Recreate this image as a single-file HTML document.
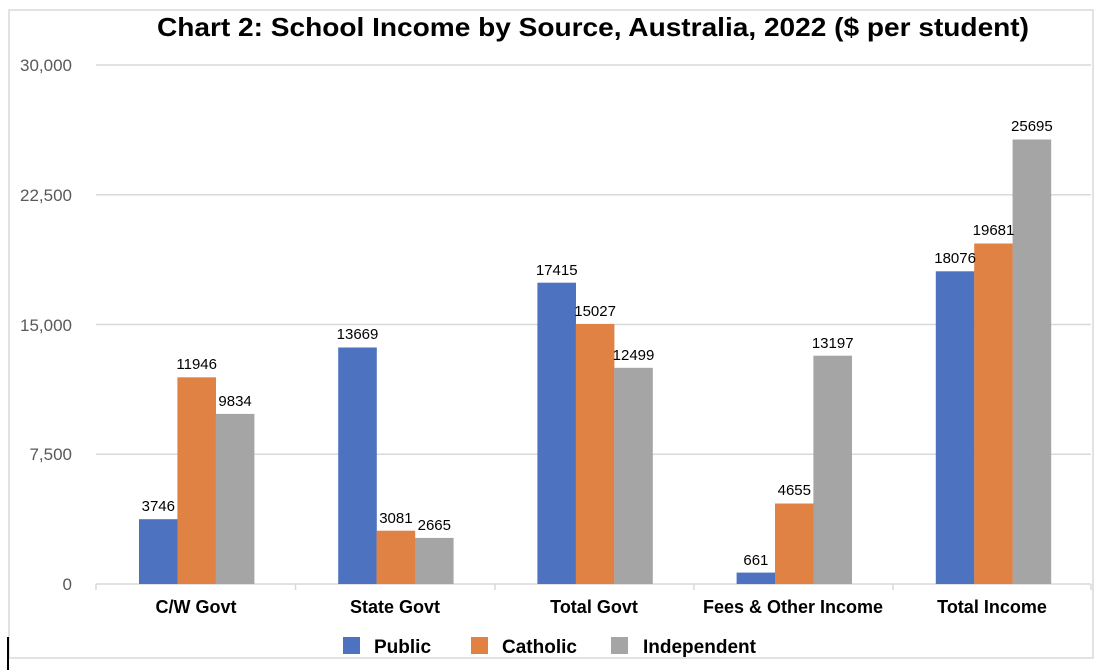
<!DOCTYPE html>
<html><head><style>
body{margin:0;background:#fff;width:1102px;height:670px;overflow:hidden}
svg{display:block}
text{font-family:"Liberation Sans",sans-serif}
</style></head><body>
<svg width="1102" height="670" viewBox="0 0 1102 670">
<rect x="9" y="10" width="1084" height="648" fill="#fff" stroke="#d9d9d9" stroke-width="1.5"/>
<line x1="8" y1="637" x2="8" y2="670" stroke="#000" stroke-width="2"/>
<text x="593" y="36" text-anchor="middle" font-size="26" font-weight="bold" textLength="872" lengthAdjust="spacingAndGlyphs">Chart 2: School Income by Source, Australia, 2022 ($ per student)</text>
<g stroke="#d9d9d9" stroke-width="1.5">
<line x1="96" y1="65" x2="1091" y2="65"/>
<line x1="96" y1="194.75" x2="1091" y2="194.75"/>
<line x1="96" y1="324.5" x2="1091" y2="324.5"/>
<line x1="96" y1="454.25" x2="1091" y2="454.25"/>
<line x1="96" y1="584" x2="1091" y2="584"/>
<line x1="96" y1="584" x2="96" y2="590"/><line x1="295.5" y1="584" x2="295.5" y2="590"/><line x1="495" y1="584" x2="495" y2="590"/><line x1="694" y1="584" x2="694" y2="590"/><line x1="893" y1="584" x2="893" y2="590"/><line x1="1091" y1="584" x2="1091" y2="590"/>
</g>
<g font-size="17" fill="#595959" text-anchor="end">
<text x="72" y="71">30,000</text><text x="72" y="201">22,500</text><text x="72" y="331">15,000</text><text x="72" y="460">7,500</text><text x="72" y="590">0</text>
</g>
<g>
<rect x="139" y="519.2" width="38.6" height="64.8" fill="#4d72c0"/>
<rect x="177.4" y="377.3" width="38.6" height="206.7" fill="#e08244"/>
<rect x="215.8" y="413.9" width="38.6" height="170.1" fill="#a5a5a5"/>
<rect x="338.2" y="347.5" width="38.6" height="236.5" fill="#4d72c0"/>
<rect x="376.6" y="530.7" width="38.6" height="53.3" fill="#e08244"/>
<rect x="415" y="537.9" width="38.6" height="46.1" fill="#a5a5a5"/>
<rect x="537.4" y="282.7" width="38.6" height="301.3" fill="#4d72c0"/>
<rect x="575.8" y="324" width="38.6" height="260" fill="#e08244"/>
<rect x="614.2" y="367.8" width="38.6" height="216.2" fill="#a5a5a5"/>
<rect x="736.6" y="572.6" width="38.6" height="11.4" fill="#4d72c0"/>
<rect x="775" y="503.5" width="38.6" height="80.5" fill="#e08244"/>
<rect x="813.4" y="355.7" width="38.6" height="228.3" fill="#a5a5a5"/>
<rect x="935.8" y="271.3" width="38.6" height="312.7" fill="#4d72c0"/>
<rect x="974.2" y="243.5" width="38.6" height="340.5" fill="#e08244"/>
<rect x="1012.6" y="139.5" width="38.6" height="444.5" fill="#a5a5a5"/>
</g>
<g font-size="15" text-anchor="middle">
<text x="158.3" y="511">3746</text><text x="196.7" y="369">11946</text><text x="235.1" y="406">9834</text>
<text x="357.5" y="339">13669</text><text x="395.9" y="523">3081</text><text x="434.3" y="530">2665</text>
<text x="556.7" y="275">17415</text><text x="595.1" y="316">15027</text><text x="633.5" y="360">12499</text>
<text x="755.9" y="565">661</text><text x="794.3" y="495">4655</text><text x="832.7" y="348">13197</text>
<text x="955.1" y="263">18076</text><text x="993.5" y="235">19681</text><text x="1031.9" y="131">25695</text>
</g>
<g font-size="18" font-weight="bold" text-anchor="middle">
<text x="196" y="613">C/W Govt</text><text x="395" y="613">State Govt</text><text x="594" y="613">Total Govt</text><text x="793" y="613">Fees &amp; Other Income</text><text x="992" y="613">Total Income</text>
</g>
<g font-size="19" font-weight="bold">
<rect x="343" y="637" width="17" height="17" fill="#4d72c0"/><text x="374" y="653">Public</text>
<rect x="471" y="637" width="17" height="17" fill="#e08244"/><text x="502" y="653">Catholic</text>
<rect x="611" y="637" width="17" height="17" fill="#a5a5a5"/><text x="643" y="653">Independent</text>
</g>
</svg>
</body></html>
